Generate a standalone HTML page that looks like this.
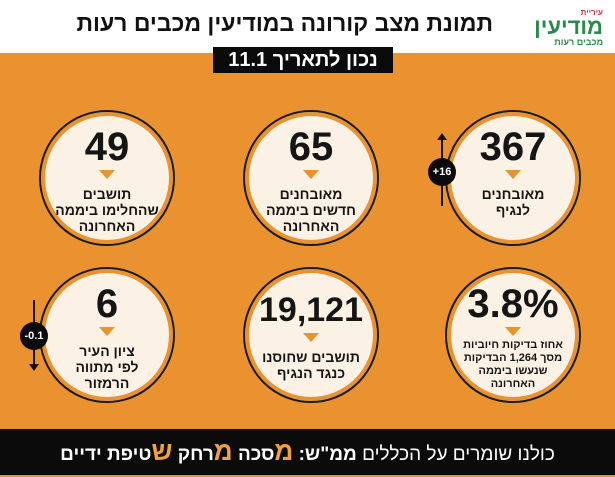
<!DOCTYPE html><html><head><meta charset="utf-8"><style>
body{margin:0;width:615px;height:475px;overflow:hidden;font-family:"Liberation Sans","Noto Sans CJK JP",sans-serif;background:#e9922f;position:relative}
.hdr{position:absolute;left:0;top:0;width:615px;height:53px;background:#fff}
.title{position:absolute;right:122px;top:10px;font-size:23px;font-weight:bold;color:#111;direction:rtl;white-space:nowrap}
.date{position:absolute;left:213px;top:47px;width:180px;height:26px;background:#0b0b0b;color:#fff;font-size:20px;font-weight:bold;text-align:center;line-height:26px;direction:rtl}
.logo{position:absolute;right:12px;top:8px;text-align:right;color:#2b8a4a;direction:rtl;font-weight:bold}
.foot{position:absolute;left:0;top:429px;width:615px;height:46px;background:#0b0b0b;color:#fff;direction:rtl;text-align:center;font-size:19px;line-height:44px;white-space:nowrap}
.c{position:absolute;width:132px;height:132px;border-radius:50%;background:#fbf1e4;border:2px solid #1a1a1a;box-shadow:0 0 0 4px #e9922f inset;text-align:center;direction:rtl}
.c .n{font-size:40px;font-weight:bold;color:#151515;margin-top:14px;line-height:42px}
.c .t{font-size:14px;font-weight:bold;color:#151515;line-height:16px;margin-top:7px}
.tri{width:0;height:0;border-left:8px solid transparent;border-right:8px solid transparent;border-top:9px solid #e9922f;margin:2px auto 0}
.b{position:absolute;width:28px;height:28px;border-radius:50%;background:#0b0b0b;color:#fff;font-size:11px;font-weight:bold;text-align:center;line-height:28px}
.ln{position:absolute;width:2px;background:#111}
</style></head><body>
<div class="hdr"></div>
<div class="title">תמונת מצב קורונה במודיעין מכבים רעות</div>
<div class="logo"><div style="font-size:8px;color:#c33">עיריית</div><div style="font-size:22px;line-height:20px">מודיעין</div><div style="font-size:9px">מכבים רעות</div></div>
<div class="date">נכון לתאריך 11.1</div>

<div class="c" style="left:445px;top:110px"><div class="n">367</div><div class="tri"></div><div class="t">מאובחנים<br>לנגיף</div></div>
<div class="c" style="left:243px;top:110px"><div class="n">65</div><div class="tri"></div><div class="t">מאובחנים<br>חדשים ביממה<br>האחרונה</div></div>
<div class="c" style="left:39px;top:110px"><div class="n">49</div><div class="tri"></div><div class="t">תושבים<br>שהחלימו ביממה<br>האחרונה</div></div>
<div class="c" style="left:445px;top:267px"><div class="n">3.8%</div><div class="tri"></div><div class="t" style="font-size:11px;line-height:13px;margin-top:3px">אחוז בדיקות חיוביות<br>מסך 1,264 הבדיקות<br>שנעשו ביממה<br>האחרונה</div></div>
<div class="c" style="left:243px;top:267px"><div class="n" style="font-size:34px;margin-top:20px">19,121</div><div class="tri"></div><div class="t">תושבים שחוסנו<br>כנגד הנגיף</div></div>
<div class="c" style="left:39px;top:267px"><div class="n">6</div><div class="tri"></div><div class="t">ציון העיר<br>לפי מתווה<br>הרמזור</div></div>

<div class="ln" style="left:441px;top:138px;height:68px"></div>
<div style="position:absolute;left:437px;top:133px;border-left:5px solid transparent;border-right:5px solid transparent;border-bottom:7px solid #111"></div>
<div class="b" style="left:428px;top:158px">+16</div>
<div class="ln" style="left:33px;top:300px;height:66px"></div>
<div style="position:absolute;left:29px;top:364px;border-left:5px solid transparent;border-right:5px solid transparent;border-top:7px solid #111"></div>
<div class="b" style="left:20px;top:322px">-0.1</div>

<div class="foot">כולנו שומרים על הכללים <b>ממ"ש:</b> <b style="color:#f0a040;font-size:26px">מ</b><b>סכה</b> <b style="color:#f0a040;font-size:26px">מ</b><b>רחק</b> <b style="color:#f0a040;font-size:26px">ש</b><b>טיפת ידיים</b></div>
</body></html>
